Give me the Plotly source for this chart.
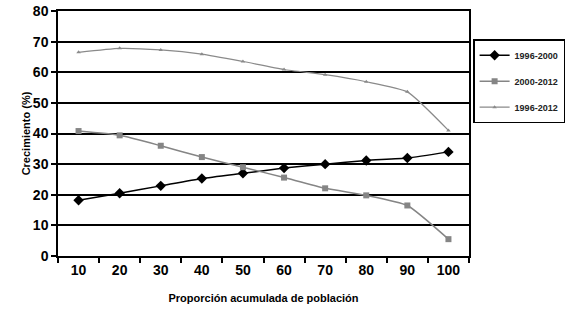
import plotly.graph_objects as go

categories = ["10", "20", "30", "40", "50", "60", "70", "80", "90", "100"]
s_1996_2000 = [18.2, 20.5, 22.9, 25.3, 27.0, 28.7, 30.0, 31.2, 32.0, 34.0]
s_2000_2012 = [40.8, 39.4, 36.0, 32.3, 29.0, 25.6, 22.1, 19.8, 16.5, 5.5]
s_1996_2012 = [66.5, 67.8, 67.3, 65.9, 63.5, 60.9, 59.2, 56.9, 53.6, 41.0]
y_ticks = [0, 10, 20, 30, 40, 50, 60, 70, 80]

font_fam = "Liberation Sans, Arial, sans-serif"

fig = go.Figure()
fig.add_trace(go.Scatter(
    x=categories, y=s_1996_2000, name="1996-2000", mode="lines+markers",
    line=dict(color="#000000", width=1.5, shape="spline", smoothing=0.5),
    marker=dict(symbol="diamond", size=8, color="#000000"),
    legendgroup="a"))
fig.add_trace(go.Scatter(
    x=categories, y=s_2000_2012, name="2000-2012", mode="lines+markers",
    line=dict(color="#858585", width=1.5, shape="spline", smoothing=0.5),
    marker=dict(symbol="square", size=6, color="#858585"),
    legendgroup="b"))
fig.add_trace(go.Scatter(
    x=categories, y=s_1996_2012, name="1996-2012", mode="lines+markers",
    line=dict(color="#8a8a8a", width=1.2, shape="spline", smoothing=0.5),
    marker=dict(symbol="triangle-up", size=4, color="#8a8a8a"),
    legendgroup="c"))

fig.update_layout(
    width=580, height=311,
    margin=dict(l=58, r=111, t=11, b=55, autoexpand=False),
    paper_bgcolor="white", plot_bgcolor="white",
    font=dict(family=font_fam, color="#000000"),
    showlegend=True,
    legend=dict(
        x=1.01, y=0.885, xanchor="left", yanchor="top",
        bordercolor="#000000", borderwidth=1.5,
        font=dict(size=9, color="#222222", weight="bold"),
        tracegroupgap=7, itemwidth=30,
    ),
    xaxis=dict(
        type="category", tickson="boundaries", ticks="outside", ticklen=5,
        tickcolor="#000000", tickwidth=1.5,
        showline=True, linecolor="#000000", linewidth=1.5, mirror=True,
        showgrid=False, automargin=False,
        tickfont=dict(size=14, family=font_fam, weight="bold"),
        title=dict(text="Proporción acumulada de población",
                   font=dict(size=11, weight="bold"), standoff=18),
        range=[-0.5, 9.5],
    ),
    yaxis=dict(
        range=[0, 80], tickvals=y_ticks, ticks="outside", ticklen=5,
        tickcolor="#000000", tickwidth=1.5, ticksuffix="\u00a0",
        showline=True, linecolor="#000000", linewidth=1.5, mirror=True,
        showgrid=True, gridcolor="#000000", gridwidth=1.5,
        zeroline=False, automargin=False,
        tickfont=dict(size=14, family=font_fam, weight="bold"),
        title=dict(text="Crecimiento (%)", font=dict(size=11, weight="bold"), standoff=0),
    ),
)

fig.write_html("out.html", config={"displayModeBar": False},
               post_script="document.body.style.margin='0';")
